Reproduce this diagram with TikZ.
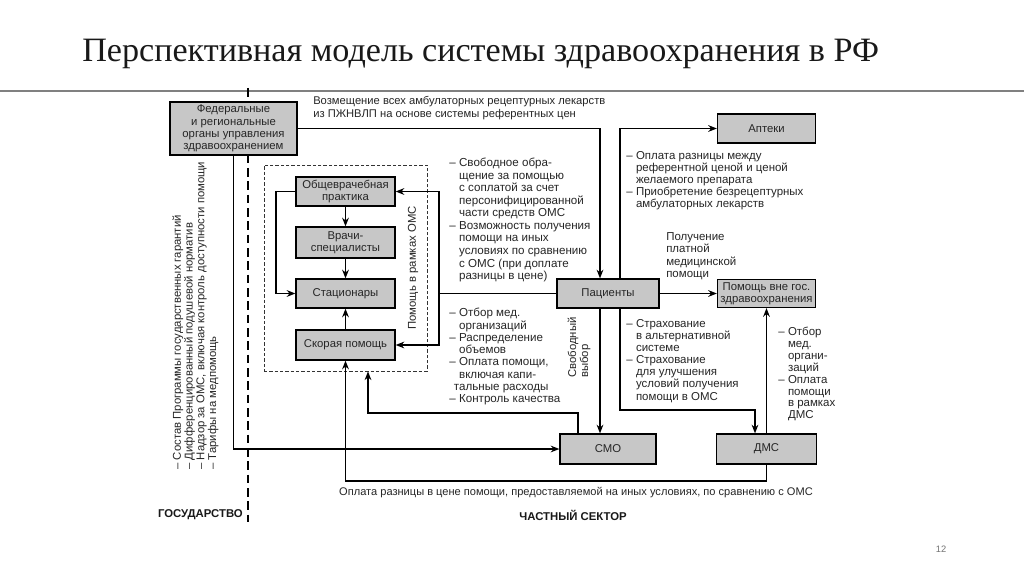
\documentclass[tikz,border=0pt]{standalone}
\usepackage{fontspec}
\setmainfont{Liberation Sans}
\newfontfamily\titlefont{Liberation Serif}
\usetikzlibrary{arrows.meta,calc}
\newcommand\mydash{\makebox[0.85em][l]{–}}
\newcommand\myind{\hspace*{0.85em}}
\begin{document}
\begin{tikzpicture}[x=0.75pt,y=-0.75pt]
\tikzset{
 box/.style={draw=black, line width=0.9pt, fill=black!22, inner sep=1pt, align=center,
   font=\fontsize{8.5}{9.2}\selectfont, text=black!85},
 arr/.style={line width=1.2pt, -{Stealth[length=6.5pt,width=5pt]}},
 ln/.style={line width=1.2pt},
 txt/.style={inner sep=0pt, align=left, text=black!85, anchor=north west},
}
\useasboundingbox[fill=white] (0,0) rectangle (1024,574);

% title
\node[anchor=base west, inner sep=0, font=\titlefont\fontsize{25.6}{30}\selectfont, text=black!90] (title) at (82,62) {Перспективная модель системы здравоохранения в РФ};
\draw[black!50, line width=0.8pt] (0,91) -- (1024,91);
\node[font=\fontsize{7}{8}\selectfont, text=black!55] (pg) at (941,549) {12};

% divider
\draw[line width=1.3pt, dash pattern=on 6.5pt off 3.5pt] (248,88) -- (248,522);

% boxes
\node[box, minimum width=95.25pt, minimum height=39.75pt] (fed) at (233.5,128.5) {Федеральные\\и региональные\\органы управления\\здравоохранением};
\node[box, minimum width=74.25pt, minimum height=21.75pt] (obsh) at (345.5,191.5) {Общеврачебная\\практика};
\node[box, minimum width=74.25pt, minimum height=23.25pt] (vrachi) at (345.5,242.5) {Врачи-\\специалисты};
\node[box, minimum width=74.25pt, minimum height=21.75pt] (stac) at (345.5,293.5) {Стационары};
\node[box, minimum width=74.25pt, minimum height=22.5pt] (skor) at (345.5,345) {Скорая помощь};
\node[draw=black!80, line width=0.6pt, dash pattern=on 2.5pt off 1.5pt, minimum width=122.25pt, minimum height=154.5pt, inner sep=0] (oms) at (345.5,268) {};
\node[box, minimum width=76.5pt, minimum height=21.75pt] (pac) at (608,293.5) {Пациенты};
\node[box, minimum width=73.5pt, minimum height=21.75pt] (apt) at (766.5,128.5) {Аптеки};
\node[box, minimum width=73.5pt, minimum height=21pt] (vne) at (766.5,293.5) {Помощь вне гос.\\здравоохранения};
\node[box, minimum width=72pt, minimum height=22.5pt] (smo) at (608,449) {СМО};
\node[box, minimum width=75pt, minimum height=22.5pt] (dms) at (766.5,449) {ДМС};

% coordinates
\coordinate (c600) at (600,128.5);
\coordinate (c620) at (620,128.5);
\coordinate (br) at (439,293.5);
\coordinate (lp) at (276,191.5);
\coordinate (r1) at (620,410);
\coordinate (r2) at (755,410);
\coordinate (s1) at (578,413);
\coordinate (s2) at (368,413);
\coordinate (b1) at (766.5,481);

% connectors
\draw[arr] (fed.east) -- (c600) -- (c600 |- pac.north);
\draw[arr] (fed.south) |- (smo.west);
\draw[arr] (c620 |- pac.north) -- (c620) -- (apt.west);
\draw[arr] (pac.east) -- (vne.west);
\draw[ln] (pac.west) -- (br);
\draw[arr] (br) |- (obsh.east);
\draw[arr] (br) |- (skor.east);
\draw[arr] (obsh.west) -- (lp) |- (stac.west);
\draw[arr] (obsh.south) -- (vrachi.north);
\draw[arr] (vrachi.south) -- (stac.north);
\draw[arr] (skor.north) -- (stac.south);
\draw[arr] (c600 |- pac.south) -- (c600 |- smo.north);
\draw[arr] (c620 |- pac.south) -- (r1) -- (r2) -- (r2 |- dms.north);
\draw[arr] (dms.north) -- (vne.south);
\draw[arr] (s1 |- smo.north) -- (s1) -- (s2) -- (s2 |- oms.south);
\draw[arr] (dms.south) -- (b1) -| (skor.south);

% texts
\node[txt, font=\fontsize{8.4}{9.75}\selectfont] (t1) at (313,96) {Возмещение всех амбулаторных рецептурных лекарств\\из ПЖНВЛП на основе системы референтных цен};
\node[txt, font=\fontsize{8.7}{9.4}\selectfont] (t2) at (449,158) {\mydash Свободное обра-\\
\myind щение за помощью\\
\myind с соплатой за счет\\
\myind персонифицированной\\
\myind части средств ОМС\\
\mydash Возможность получения\\
\myind помощи на иных\\
\myind условиях по сравнению\\
\myind с ОМС (при доплате\\
\myind разницы в цене)};
\node[txt, font=\fontsize{8.7}{9.2}\selectfont] (t3) at (449,308) {\mydash Отбор мед.\\
\myind организаций\\
\mydash Распределение\\
\myind объемов\\
\mydash Оплата помощи,\\
\myind включая капи-\\
\hspace*{0.4em}тальные расходы\\
\mydash Контроль качества};
\node[txt, font=\fontsize{8.6}{9}\selectfont] (t4) at (626,151) {\mydash Оплата разницы между\\
\myind референтной ценой и ценой\\
\myind желаемого препарата\\
\mydash Приобретение безрецептурных\\
\myind амбулаторных лекарств};
\node[txt, font=\fontsize{8.6}{9.4}\selectfont] (t5) at (666,232) {Получение\\платной\\медицинской\\помощи};
\node[txt, font=\fontsize{8.6}{9.1}\selectfont] (t6) at (626,319) {\mydash Страхование\\
\myind в альтернативной\\
\myind системе\\
\mydash Страхование\\
\myind для улучшения\\
\myind условий получения\\
\myind помощи в ОМС};
\node[txt, font=\fontsize{8.6}{8.9}\selectfont] (t7) at (778,327) {\mydash Отбор\\
\myind мед.\\
\myind органи-\\
\myind заций\\
\mydash Оплата\\
\myind помощи\\
\myind в рамках\\
\myind ДМС};
\node[txt, anchor=center, font=\fontsize{8.3}{9}\selectfont] (t8) at (576,493) {Оплата разницы в цене помощи, предоставляемой на иных условиях, по сравнению с ОМС};

\node[txt, rotate=90, anchor=west, font=\fontsize{8.5}{8.8}\selectfont] (gov) at (195.5,470) {\mydash Состав Программы государственных гарантий\\
\mydash Дифференцированный подушевой норматив\\
\mydash Надзор за ОМС, включая контроль доступности помощи\\
\mydash Тарифы на медпомощь};
\node[txt, rotate=90, anchor=center, font=\fontsize{8.5}{9.4}\selectfont] (pom) at (413,268) {Помощь в рамках ОМС};
\node[txt, rotate=90, anchor=west, font=\fontsize{8.5}{9}\selectfont] (svb) at (579,378) {Свободный\\выбор};

\node[inner sep=0, anchor=east, font=\bfseries\fontsize{8.5}{10}\selectfont, text=black!90] (gos) at (243,515) {ГОСУДАРСТВО};
\node[inner sep=0, font=\bfseries\fontsize{8.5}{10}\selectfont, text=black!90] (chs) at (573,515) {ЧАСТНЫЙ СЕКТОР};
\end{tikzpicture}
\end{document}
